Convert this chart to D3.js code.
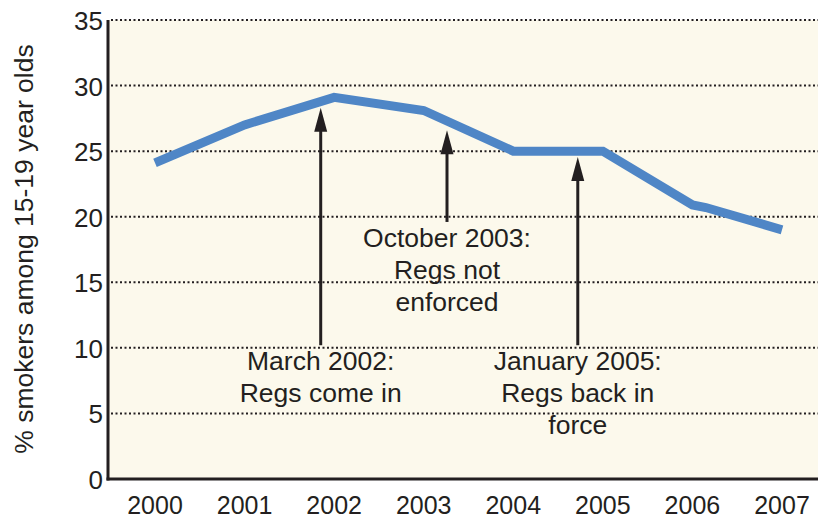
<!DOCTYPE html>
<html>
<head>
<meta charset="utf-8">
<script src="https://cdn.jsdelivr.net/npm/d3@7"></script>
<style>
html,body{margin:0;padding:0;background:#fff;}
svg{display:block;}
text{font-family:"Liberation Sans",Arial,Helvetica,sans-serif;fill:#231f20;}
</style>
</head>
<body>
<svg id="chart" width="818" height="520"></svg>
<script>
// ---- data ----
const years = [2000, 2001, 2002, 2003, 2004, 2005, 2006, 2006.15, 2007];
const smokers = [24.1, 27.0, 29.1, 28.1, 25.0, 25.0, 20.9, 20.7, 19.0];
const xTickLabels = ["2000","2001","2002","2003","2004","2005","2006","2007"];
const yTickValues = [0, 5, 10, 15, 20, 25, 30, 35];
const yTitle = "% smokers among 15-19 year olds";
const annotYear = [2001.85, 2003.26, 2004.72];
const annotTip = [28.3, 26.6, 24.55];
const annotTail = [10.2, 19.6, 10.2];
const annotText = [
  ["March 2002:", "Regs come in"],
  ["October 2003:", "Regs not", "enforced"],
  ["January 2005:", "Regs back in", "force"]
];

// ---- layout ----
(function () {
const svg = d3.select("#chart");
const pL = 108, pR = 818, pT = 20, pB = 479;
const x = d3.scaleLinear().domain([2000, 2007]).range([155, 782]);
const y = d3.scaleLinear().domain([0, 35]).range([pB, pT]);
const ink = "#231f20";

// background
svg.append("rect").attr("x", pL).attr("y", pT)
  .attr("width", pR - pL).attr("height", pB - pT)
  .attr("fill", "#fcf9ec");

// gridlines
svg.append("g").selectAll("line").data(yTickValues.filter(d => d > 0)).join("line")
  .attr("x1", pL + 3).attr("x2", pR)
  .attr("y1", d => y(d)).attr("y2", d => y(d))
  .attr("stroke", ink).attr("stroke-width", 2)
  .attr("stroke-dasharray", "2 2.5");

// y tick labels
svg.append("g").selectAll("text").data(yTickValues).join("text")
  .attr("x", 103).attr("y", d => y(d) + 10)
  .attr("text-anchor", "end").attr("font-size", 26)
  .text(d => d);

// x tick labels
svg.append("g").selectAll("text").data(xTickLabels).join("text")
  .attr("x", d => x(+d)).attr("y", 514)
  .attr("text-anchor", "middle").attr("font-size", 25)
  .text(d => d);

// axes lines
svg.append("line").attr("x1", pL).attr("x2", pL).attr("y1", pT).attr("y2", pB + 1.5)
  .attr("stroke", ink).attr("stroke-width", 3);
svg.append("line").attr("x1", pL - 1.5).attr("x2", pR).attr("y1", pB).attr("y2", pB)
  .attr("stroke", ink).attr("stroke-width", 3);

// y title
svg.append("text")
  .attr("transform", "translate(33,249) rotate(-90)")
  .attr("text-anchor", "middle").attr("font-size", 26.5)
  .text(yTitle);

// data line
const line = d3.line().x((d, i) => x(years[i])).y(d => y(d));
svg.append("path").datum(smokers)
  .attr("d", line)
  .attr("fill", "none").attr("stroke", "#4f86c6")
  .attr("stroke-width", 9).attr("stroke-linejoin", "miter");

// annotations
annotYear.forEach((yr, i) => {
  const ax = x(yr), tipY = y(annotTip[i]), tailY = y(annotTail[i]);
  const g = svg.append("g");
  g.append("line").attr("x1", ax).attr("x2", ax).attr("y1", tipY + 15).attr("y2", tailY)
    .attr("stroke", ink).attr("stroke-width", 3);
  g.append("path")
    .attr("d", `M${ax},${tipY} L${ax - 6.5},${tipY + 24} L${ax + 6.5},${tipY + 24} Z`)
    .attr("fill", ink);
  annotText[i].forEach((t, j) => {
    g.append("text").attr("x", ax).attr("y", tailY + 25 + j * 32)
      .attr("text-anchor", "middle").attr("font-size", 26.5).text(t);
  });
});
})();
</script>
</body>
</html>
